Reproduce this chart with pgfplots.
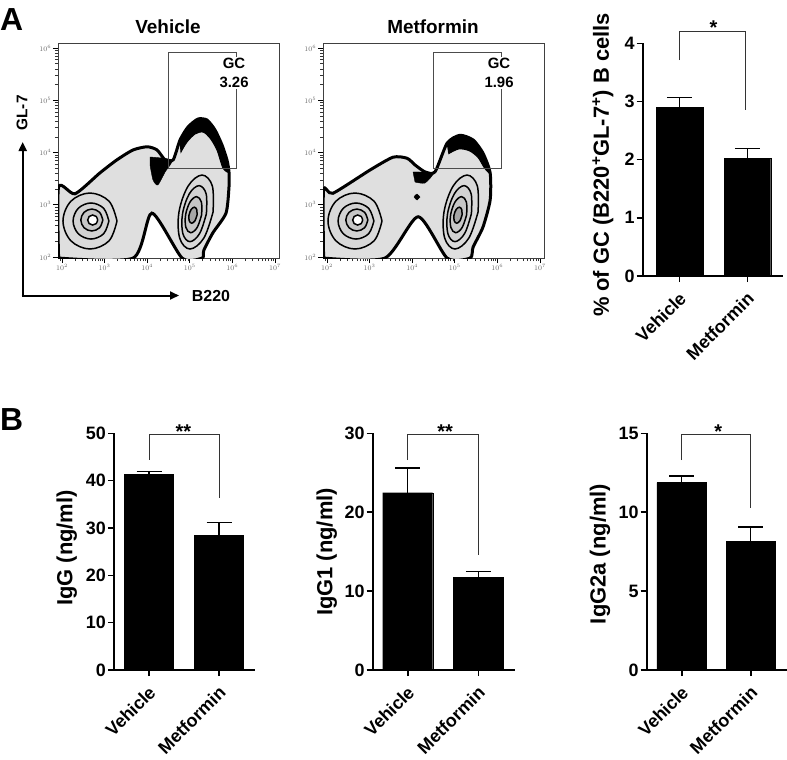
\documentclass[border=0pt]{standalone}
\usepackage{pgfplots}
\pgfplotsset{compat=1.18}
\usepackage{fontspec}
\setmainfont{Liberation Sans}
\usetikzlibrary{arrows.meta}
\newcommand{\fs}[1]{\fontsize{#1}{#1}\selectfont}

\pgfplotsset{
  prism/.style={
    scale only axis, anchor=south west,
    axis lines=left,
    axis line style={-, line width=1.6bp},
    ymin=0,
    xtick={0,1},
    xticklabels={Vehicle,Metformin},
    tick align=outside,
    major tick length=6bp,
    tick style={line width=1.6bp, black},
    xticklabel style={rotate=45, anchor=north east, inner sep=1bp, xshift=-6bp, yshift=-4bp, font=\bfseries\fs{18}},
    yticklabel style={font=\bfseries\fs{18}, inner sep=2bp},
    /pgf/number format/assume math mode=true,
    clip=false,
    height=236.7bp,
  },
  flow/.style={
    scale only axis, width=221bp, height=215bp, anchor=south west,
    xmin=1.906, xmax=7.094, ymin=1.981, ymax=6.096,
    xtick={2,3,4,5,6,7}, ytick={2,3,4,5,6},
    xticklabels={$10^{2}$,$10^{3}$,$10^{4}$,$10^{5}$,$10^{6}$,$10^{7}$},
    yticklabels={$10^{2}$,$10^{3}$,$10^{4}$,$10^{5}$,$10^{6}$},
    minor xtick={1.954,2.301,2.477,2.602,2.699,2.778,2.845,2.903,2.954,3.301,3.477,3.602,3.699,3.778,3.845,3.903,3.954,4.301,4.477,4.602,4.699,4.778,4.845,4.903,4.954,5.301,5.477,5.602,5.699,5.778,5.845,5.903,5.954,6.301,6.477,6.602,6.699,6.778,6.845,6.903,6.954},
    minor ytick={2.301,2.477,2.602,2.699,2.778,2.845,2.903,2.954,3.301,3.477,3.602,3.699,3.778,3.845,3.903,3.954,4.301,4.477,4.602,4.699,4.778,4.845,4.903,4.954,5.301,5.477,5.602,5.699,5.778,5.845,5.903,5.954},
    xtick pos=bottom, ytick pos=left, tick align=outside,
    major tick length=5bp, minor tick length=3bp,
    tick style={black, line width=0.7bp},
    minor tick style={black!80, line width=0.5bp},
    ticklabel style={font=\fs{7}, text=black!60, inner sep=1.5bp},
    axis line style={black!75, line width=0.8bp},
  },
  ring/.style={smooth, tension=0.6, draw=black, line width=1.5bp, fill=#1},
  errs/.style={error bars/.cd, y dir=plus, y explicit,
    error bar style={line width=1.3bp, black},
    error mark options={rotate=90, mark size=12.5bp, line width=1.3bp, black}},
}

\newcommand{\rings}{%
  % left population
  \addplot[ring=gray!30] coordinates {(3.291,2.689) (3.105,3.068) (2.657,3.225) (2.209,3.068) (2.023,2.689) (2.209,2.31) (2.657,2.153) (3.105,2.31) (3.291,2.689)};
  \addplot[ring=gray!35] coordinates {(3.10,2.689) (2.977,2.933) (2.68,3.034) (2.383,2.933) (2.26,2.689) (2.383,2.445) (2.68,2.344) (2.977,2.445) (3.10,2.689)};
  \addplot[ring=gray!45] coordinates {(2.958,2.708) (2.882,2.856) (2.70,2.918) (2.518,2.856) (2.442,2.708) (2.518,2.56) (2.70,2.498) (2.882,2.56) (2.958,2.708)};
  \addplot[ring=white] coordinates {(2.837,2.708) (2.803,2.776) (2.72,2.804) (2.637,2.776) (2.603,2.708) (2.637,2.64) (2.72,2.612) (2.803,2.64) (2.837,2.708)};
  % right population
  \addplot[ring=gray!30] coordinates {(5.546,2.861) (5.529,3.361) (5.288,3.569) (4.963,3.361) (4.746,2.861) (4.763,2.361) (5.004,2.153) (5.329,2.361) (5.546,2.861)};
  \addplot[ring=gray!35] coordinates {(5.39,2.83) (5.384,3.209) (5.217,3.366) (4.988,3.209) (4.83,2.83) (4.836,2.451) (5.003,2.294) (5.232,2.451) (5.39,2.83)};
  \addplot[ring=gray!45] coordinates {(5.278,2.81) (5.272,3.054) (5.159,3.155) (5.006,3.054) (4.902,2.81) (4.908,2.566) (5.021,2.465) (5.174,2.566) (5.278,2.81)};
  \addplot[ring=gray!70] coordinates {(5.169,2.80) (5.163,2.908) (5.106,2.953) (5.031,2.908) (4.981,2.80) (4.987,2.692) (5.044,2.647) (5.119,2.692) (5.169,2.80)};
}

\begin{document}
\begin{tikzpicture}
\path[use as bounding box] (0,0) rectangle (787bp,-760bp);

% ---------------- Flow plot: Vehicle
\begin{axis}[flow, at={(58bp,-258bp)}]
  \addplot[smooth, tension=0.4, draw=black, line width=3bp, fill=gray!25] coordinates {
    (1.92,1.98) (1.92,3.34) (2.305,3.21) (2.89,3.61) (3.29,3.86) (3.67,4.05) (4.0,4.11) (4.23,4.05) (4.42,3.86) (4.61,3.86) (4.77,4.239) (4.958,4.488) (5.192,4.641) (5.404,4.622) (5.592,4.431) (5.756,4.144) (5.873,3.856) (5.92,3.627) (5.92,3.34) (5.85,2.84) (5.54,2.46) (5.33,2.13) (5.29,1.98) (4.82,1.98) (4.11,2.84) (3.67,1.98) (1.92,1.98)} -- cycle;
  \addplot[smooth, tension=0.5, fill=black, draw=black, line width=1bp] coordinates {
    (4.77,4.239) (4.958,4.488) (5.192,4.641) (5.404,4.622) (5.592,4.431) (5.756,4.144) (5.873,3.856) (5.92,3.627) (5.779,3.703) (5.638,4.048) (5.474,4.278) (5.31,4.392) (5.122,4.354) (4.934,4.201) (4.793,4.01)} -- cycle;
  \addplot[smooth, tension=0.4, fill=black, draw=black] coordinates {
    (4.066,3.914) (4.58,3.856) (4.42,3.627) (4.25,3.378) (4.136,3.474) (4.066,3.76)} -- cycle;
  \rings
  \draw[black!70, line width=0.8bp] (axis cs:4.488,3.703) rectangle (axis cs:6.085,5.923);
  \node[fill=white, inner sep=1.5bp, align=center, anchor=north east, font=\bfseries\fs{15}] at (axis cs:6.42,5.84) {GC\\[4bp]3.26};
\end{axis}

% ---------------- Flow plot: Metformin
\begin{axis}[flow, at={(323bp,-258bp)}]
  \addplot[smooth, tension=0.4, draw=black, line width=3bp, fill=gray!25] coordinates {
    (1.92,1.98) (1.92,3.28) (2.14,3.22) (3.01,3.665) (3.55,3.91) (3.88,3.89) (4.07,3.76) (4.30,3.63) (4.535,3.63) (4.82,4.18) (5.12,4.33) (5.43,4.24) (5.66,3.99) (5.83,3.61) (5.83,3.09) (5.66,2.57) (5.43,2.19) (5.36,1.98) (4.82,1.98) (4.14,2.77) (3.36,1.98) (1.92,1.98)} -- cycle;
  \addplot[smooth, tension=0.5, fill=black, draw=black, line width=1bp] coordinates {
    (4.82,4.18) (5.12,4.33) (5.43,4.24) (5.66,3.99) (5.83,3.61) (5.70,3.70) (5.55,3.90) (5.35,4.03) (5.10,4.07) (4.86,3.98)} -- cycle;
  \addplot[smooth, tension=0.4, fill=black, draw=black] coordinates {
    (4.02,3.627) (4.49,3.608) (4.30,3.416) (4.066,3.435)} -- cycle;
  \addplot[smooth, fill=black, draw=black] coordinates {
    (4.183,3.148) (4.113,3.205) (4.043,3.148) (4.113,3.091)} -- cycle;
  \rings
  \draw[black!70, line width=0.8bp] (axis cs:4.488,3.703) rectangle (axis cs:6.085,5.923);
  \node[fill=white, inner sep=1.5bp, align=center, anchor=north east, font=\bfseries\fs{15}] at (axis cs:6.42,5.84) {GC\\[4bp]1.96};
\end{axis}

% titles, arrows
\node[anchor=base, font=\bfseries\fs{19}] at (168bp,-33bp) {Vehicle};
\node[anchor=base, font=\bfseries\fs{19}] at (433bp,-33bp) {Metformin};
\draw[line width=2bp, -{Triangle[length=9bp,width=8bp]}] (22.7bp,-296.5bp) -- (22.7bp,-142bp);
\draw[line width=2bp, -{Triangle[length=9bp,width=8bp]}] (21.7bp,-295.5bp) -- (179bp,-295.5bp);
\node[rotate=90, font=\bfseries\fs{15.5}] at (22bp,-113bp) {GL-7};
\node[font=\bfseries\fs{16}] at (211bp,-296bp) {B220};

\node[anchor=base west, font=\bfseries\fs{32}, inner sep=0pt] at (0bp,-30bp) {A};
\node[anchor=base west, font=\bfseries\fs{32}, inner sep=0pt] at (0bp,-430bp) {B};

% ---------------- Bar chart A
\begin{axis}[prism, at={(642.7bp,-276bp)}, width=140bp, height=232.7bp,
  ymax=4, ytick={0,1,2,3,4}, xmin=-0.54, xmax=1.52]
  \addplot[ybar, bar width=46.7bp, fill=black, draw=black, errs] coordinates {(0,2.90) +- (0,0.17) (1,2.02) +- (0,0.17)};
  \draw[line width=1bp, black!80] (axis cs:0,3.71) |- (axis cs:0.97,4.21) -- (axis cs:0.97,2.85);
  \node[anchor=base, font=\bfseries\fs{20}, inner sep=0pt] at (axis cs:0.5,4.15) {*};
\end{axis}
\node[rotate=90, font=\bfseries\fs{22}] at (603bp,-165bp) {\% of GC (B220\textsuperscript{+}GL-7\textsuperscript{+}) B cells};

% ---------------- Bar chart B1
\begin{axis}[prism, at={(114bp,-670bp)}, width=141bp,
  ymax=50, ytick={0,10,20,30,40,50}, xmin=-0.5, xmax=1.514]
  \addplot[ybar, bar width=49bp, fill=black, draw=black, errs] coordinates {(0,41.4) +- (0,0.5) (1,28.5) +- (0,2.7)};
  \draw[line width=1bp, black!80] (axis cs:0,44.4) |- (axis cs:1,49.8) -- (axis cs:1,36.3);
  \node[anchor=base, font=\bfseries\fs{20}, inner sep=0pt] at (axis cs:0.49,49.0) {**};
\end{axis}
\node[rotate=90, font=\bfseries\fs{22}] at (66.7bp,-548bp) {IgG (ng/ml)};

% ---------------- Bar chart B2
\begin{axis}[prism, at={(372.7bp,-670bp)}, width=142.3bp,
  ymax=30, ytick={0,10,20,30}, xmin=-0.496, xmax=1.52]
  \addplot[ybar, bar width=50bp, fill=black, draw=black, errs] coordinates {(0,22.47) +- (0,3.15) (1,11.75) +- (0,0.7)};
  \draw[line width=1bp, black!80] (axis cs:0,26.6) |- (axis cs:1,29.8) -- (axis cs:1,14.6);
  \node[anchor=base, font=\bfseries\fs{20}, inner sep=0pt] at (axis cs:0.53,29.4) {**};
\end{axis}
\node[rotate=90, font=\bfseries\fs{22}] at (326.7bp,-552bp) {IgG1 (ng/ml)};

% ---------------- Bar chart B3
\begin{axis}[prism, at={(646.7bp,-670bp)}, width=140bp,
  ymax=15, ytick={0,5,10,15}, xmin=-0.507, xmax=1.52]
  \addplot[ybar, bar width=49.5bp, fill=black, draw=black, errs] coordinates {(0,11.87) +- (0,0.43) (1,8.17) +- (0,0.9)};
  \draw[line width=1bp, black!80] (axis cs:0,13.3) |- (axis cs:1,14.9) -- (axis cs:1,10.29);
  \node[anchor=base, font=\bfseries\fs{20}, inner sep=0pt] at (axis cs:0.53,14.7) {*};
\end{axis}
\node[rotate=90, font=\bfseries\fs{22}] at (600bp,-554bp) {IgG2a (ng/ml)};

\end{tikzpicture}
\end{document}
